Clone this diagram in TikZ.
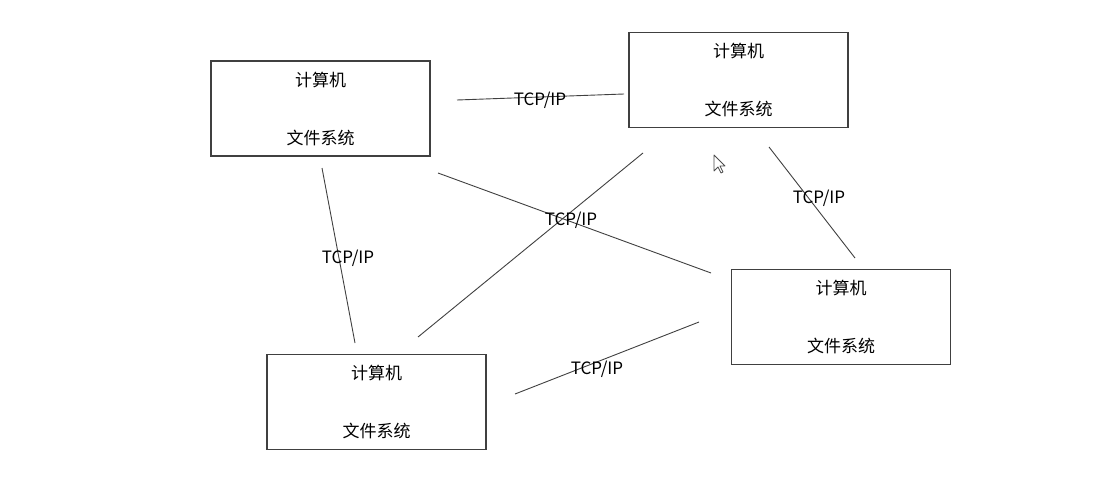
\documentclass[tikz,border=0pt]{standalone}
\usepackage{fontspec}
\setmainfont{Noto Sans CJK SC}
\usetikzlibrary{positioning, calc}

\begin{document}
\begin{tikzpicture}[x=1pt, y=-1pt, line width=1pt]
  \tikzstyle{pcbox}=[draw=black!75, line width=1.4pt, minimum width=219pt,
    minimum height=95pt, align=center, font=\fontsize{17}{20}\selectfont, text=black]
  \tikzstyle{link}=[black!75, line width=0.9pt]
  \tikzstyle{proto}=[inner sep=0pt, font=\fontsize{17}{20}\selectfont, text=black]

  \useasboundingbox (0,0) rectangle (1107,492);

  % Computers
  \node[pcbox] (pcA) at (320.5,108.5) {计算机\\[38pt]文件系统};
  \node[pcbox] (pcB) at (738.5,80) {计算机\\[38pt]文件系统};
  \node[pcbox] (pcC) at (841,317) {计算机\\[38pt]文件系统};
  \node[pcbox] (pcD) at (376.5,402) {计算机\\[38pt]文件系统};

  % Line ends (the lines do not touch the boxes)
  \coordinate (ab1) at (457,100);
  \coordinate (ab2) at (624,94);
  \coordinate (ac1) at (438,173);
  \coordinate (ac2) at (711,273);
  \coordinate (ad1) at (322,168);
  \coordinate (ad2) at (355,343);
  \coordinate (bd1) at (643,153);
  \coordinate (bd2) at (418,337);
  \coordinate (bc1) at (769,147);
  \coordinate (bc2) at (855,258);
  \coordinate (dc1) at (515,394);
  \coordinate (dc2) at (699,322);

  % Links
  \draw[link] (ab1) -- (ab2);
  \draw[link] (ac1) -- (ac2);
  \draw[link] (ad1) -- (ad2);
  \draw[link] (bd1) -- (bd2);
  \draw[link] (bc1) -- (bc2);
  \draw[link] (dc1) -- (dc2);

  %% Labels
  \node[proto] (lab) at (540,100) {TCP/IP};
  \node[proto] (lac) at (571,220) {TCP/IP};
  \node[proto] (lad) at (348,258) {TCP/IP};
  \node[proto] (lbc) at (819,198) {TCP/IP};
  \node[proto] (ldc) at (597,369) {TCP/IP};

  % mouse pointer
  \draw[black!70, fill=white, line width=0.8pt, line join=round, shift={(714,155)}]
    (0,0) -- (0,16) -- (4,12) -- (7,18) -- (9,17) -- (6,11) -- (11,11) -- cycle;
\end{tikzpicture}
\end{document}
